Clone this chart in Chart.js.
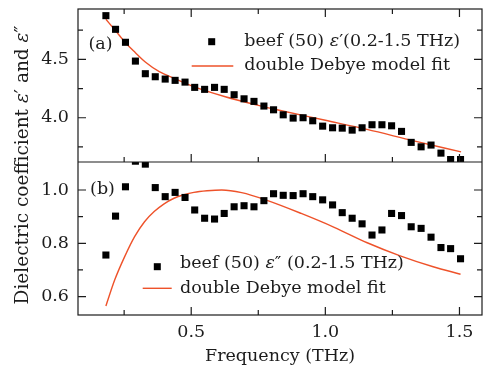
<!DOCTYPE html>
<html>
<head>
<meta charset="utf-8">
<title>Dielectric coefficient of beef</title>
<script src="https://cdn.jsdelivr.net/npm/chart.js@4/dist/chart.umd.min.js"></script>
<style>
    html, body { margin: 0; padding: 0; background: #fff; }
    #wrap { width: 487px; height: 373px; }
</style>
</head>
<body>
<div id="wrap"><canvas id="dielChart" width="487" height="373"></canvas></div>
<script>
// measured frequencies (THz)
var freq = [0.182, 0.218, 0.255, 0.292, 0.329, 0.366, 0.403, 0.440, 0.477, 0.513,
            0.550, 0.587, 0.623, 0.660, 0.697, 0.734, 0.771, 0.807, 0.843, 0.880,
            0.917, 0.953, 0.990, 1.027, 1.063, 1.100, 1.137, 1.174, 1.211, 1.247,
            1.284, 1.320, 1.357, 1.394, 1.431, 1.467, 1.504];

// (a) real part
var epsReal = [4.874, 4.757, 4.646, 4.485, 4.377, 4.351, 4.331, 4.320, 4.305, 4.260,
               4.243, 4.260, 4.243, 4.197, 4.162, 4.140, 4.100, 4.068, 4.025, 3.997,
               4.000, 3.974, 3.928, 3.914, 3.911, 3.894, 3.914, 3.940, 3.940, 3.931,
               3.883, 3.789, 3.751, 3.766, 3.697, 3.642, 3.642];

// (b) imaginary part
var epsImag = [0.756, 0.902, 1.012, 1.108, 1.097, 1.009, 0.975, 0.991, 0.972, 0.925,
               0.894, 0.891, 0.912, 0.937, 0.941, 0.937, 0.960, 0.986, 0.980, 0.979,
               0.986, 0.975, 0.963, 0.944, 0.915, 0.894, 0.873, 0.831, 0.850, 0.912,
               0.904, 0.862, 0.856, 0.823, 0.784, 0.780, 0.742];

// double Debye model fits
var fitRealX = [0.182, 0.218, 0.255, 0.292, 0.330, 0.381, 0.440, 0.504, 0.627, 0.750, 0.824, 1.000, 1.155, 1.330, 1.506];
var fitRealY = [4.843, 4.745, 4.642, 4.557, 4.475, 4.394, 4.334, 4.271, 4.180, 4.106, 4.066, 3.978, 3.900, 3.802, 3.708];
var fitImagX = [0.182, 0.215, 0.252, 0.289, 0.326, 0.362, 0.399, 0.436, 0.473, 0.510, 0.559, 0.614,
                0.688, 0.780, 0.910, 1.033, 1.156, 1.279, 1.402, 1.504];
var fitImagY = [0.565, 0.663, 0.750, 0.825, 0.881, 0.919, 0.948, 0.969, 0.982, 0.991, 0.997, 1.000,
                0.990, 0.962, 0.912, 0.860, 0.802, 0.753, 0.712, 0.684];

// ticks
var xMajor = [0.5, 1.0, 1.5];
var xMinor = [0.25, 0.75, 1.25];
var realMajor = [4.0, 4.5];
var realMinor = [3.75, 4.25, 4.75];
var imagMajor = [0.6, 0.8, 1.0];
var imagMinor = [0.7, 0.9];

var ink = '#1c1c1c';
var fitColor = 'rgb(238, 82, 42)';
var serif = '"DejaVu Serif", "Liberation Serif", serif';
var fontSize = 17.5;
var titleSize = 18.5;

function pts(xs, ys) {
    return xs.map(function (x, i) { return {x: x, y: ys[i]}; });
}

function setTicks(major, minor) {
    return function (scale) {
        scale.ticks = major.concat(minor).sort(function (a, b) { return a - b; })
            .map(function (v) { return {value: v}; });
    };
}

function labelOf(major) {
    return function (value) {
        return major.indexOf(value) >= 0 ? value.toFixed(1) : '';
    };
}

function richText(ctx, parts, x, y, size, align) {
    var widths = parts.map(function (p) {
        ctx.font = (p[1] ? 'italic ' : '') + size + 'px ' + serif;
        return ctx.measureText(p[0]).width;
    });
    var total = widths.reduce(function (s, w) { return s + w; }, 0);
    var cx = align === 'center' ? x - total / 2 : x;
    ctx.textAlign = 'left';
    ctx.textBaseline = 'middle';
    parts.forEach(function (p, i) {
        ctx.font = (p[1] ? 'italic ' : '') + size + 'px ' + serif;
        ctx.fillText(p[0], cx, y);
        cx += widths[i];
    });
}

var framePlugin = {
    id: 'frame',
    beforeDatasetDraw: function (chart, args) {
        var a = chart.chartArea;
        var ys = args.meta.yScale;
        chart.ctx.save();
        chart.ctx.beginPath();
        chart.ctx.rect(a.left, ys.top, a.right - a.left, ys.bottom - ys.top);
        chart.ctx.clip();
    },
    afterDatasetDraw: function (chart) {
        chart.ctx.restore();
    },
    afterDraw: function (chart) {
        var ctx = chart.ctx;
        var a = chart.chartArea;
        var sx = chart.scales.x, yA = chart.scales.yA, yB = chart.scales.yB;
        var bigTick = 8, smallTick = 5;

        ctx.save();
        ctx.strokeStyle = ink;
        ctx.lineWidth = 1.2;
        ctx.strokeRect(a.left, a.top, a.right - a.left, a.bottom - a.top);
        ctx.beginPath();
        ctx.moveTo(a.left, yA.bottom);
        ctx.lineTo(a.right, yA.bottom);
        ctx.stroke();

        ctx.beginPath();
        // x ticks: bottom, panel boundary, top (all inward)
        xMajor.concat(xMinor).forEach(function (v) {
            var len = xMajor.indexOf(v) >= 0 ? bigTick : smallTick;
            var px = sx.getPixelForValue(v);
            ctx.moveTo(px, a.bottom); ctx.lineTo(px, a.bottom - len);
            ctx.moveTo(px, yA.bottom); ctx.lineTo(px, yA.bottom - len);
            ctx.moveTo(px, a.top); ctx.lineTo(px, a.top + len);
        });
        function yTicks(scale, major, minor) {
            major.concat(minor).forEach(function (v) {
                var len = major.indexOf(v) >= 0 ? bigTick : smallTick;
                var py = scale.getPixelForValue(v);
                ctx.moveTo(a.left, py); ctx.lineTo(a.left + len, py);
                ctx.moveTo(a.right, py); ctx.lineTo(a.right - len, py);
            });
        }
        yTicks(yA, realMajor, realMinor);
        yTicks(yB, imagMajor, imagMinor);
        ctx.stroke();

        ctx.fillStyle = ink;
        // panel labels
        richText(ctx, [['(a)']], 100.5, 44, fontSize, 'center');
        richText(ctx, [['(b)']], 102.5, 189, fontSize, 'center');

        // legends
        var ds = chart.data.datasets;
        function legend(sqX, sqY, lineX0, lineX1, lineY, textX, textY1, textY2, dataSet, fitSet, parts) {
            ctx.fillStyle = dataSet.backgroundColor;
            ctx.fillRect(sqX - 3.5, sqY - 3.5, 7, 7);
            ctx.strokeStyle = fitSet.borderColor;
            ctx.lineWidth = fitSet.borderWidth;
            ctx.beginPath();
            ctx.moveTo(lineX0, lineY);
            ctx.lineTo(lineX1, lineY);
            ctx.stroke();
            ctx.fillStyle = ink;
            richText(ctx, parts, textX, textY1, fontSize, 'left');
            richText(ctx, [['double Debye model fit']], textX, textY2, fontSize, 'left');
        }
        legend(211.7, 41.7, 191.7, 233.3, 66, 244.3, 41, 65.5, ds[0], ds[1],
               [['beef (50) '], ['ε', true], ['′(0.2-1.5 THz)']]);
        legend(157.3, 266.7, 142.7, 171.7, 288.3, 180, 263.5, 288.3, ds[2], ds[3],
               [['beef (50) '], ['ε', true], ['″ (0.2-1.5 THz)']]);

        // shared y title
        ctx.save();
        ctx.translate(23, 165);
        ctx.rotate(-Math.PI / 2);
        ctx.fillStyle = ink;
        richText(ctx, [['Dielectric coefficient '], ['ε', true], ['′ and '], ['ε', true], ['″']], 0, 0, titleSize, 'center');
        ctx.restore();
        ctx.restore();
    }
};

function yAxis(min, max, major, minor) {
    return {
        type: 'linear',
        position: 'left',
        stack: 'panels',
        stackWeight: 1,
        min: min,
        max: max,
        afterBuildTicks: setTicks(major, minor),
        afterFit: function (scale) {
            scale.width = 78;
            scale.paddingTop = 0;
            scale.paddingBottom = 0;
        },
        grid: { display: false, drawTicks: false },
        border: { display: false },
        ticks: {
            autoSkip: false,
            padding: 9,
            color: ink,
            font: { family: serif, size: fontSize },
            callback: labelOf(major)
        }
    };
}

var ctx = document.getElementById('dielChart').getContext('2d');
var chart = new Chart(ctx, {
    type: 'scatter',
    data: {
        datasets: [
            {
                label: "beef (50) ε′",
                data: pts(freq, epsReal),
                yAxisID: 'yA',
                pointStyle: 'rect',
                pointRadius: 5,
                backgroundColor: '#000',
                borderWidth: 0
            },
            {
                label: 'double Debye model fit (a)',
                data: pts(fitRealX, fitRealY),
                yAxisID: 'yA',
                showLine: true,
                pointRadius: 0,
                borderColor: fitColor,
                borderWidth: 1.4,
                cubicInterpolationMode: 'monotone'
            },
            {
                label: "beef (50) ε″",
                data: pts(freq, epsImag),
                yAxisID: 'yB',
                pointStyle: 'rect',
                pointRadius: 5,
                backgroundColor: '#000',
                borderWidth: 0
            },
            {
                label: 'double Debye model fit (b)',
                data: pts(fitImagX, fitImagY),
                yAxisID: 'yB',
                showLine: true,
                pointRadius: 0,
                borderColor: fitColor,
                borderWidth: 1.4,
                cubicInterpolationMode: 'monotone'
            }
        ]
    },
    options: {
        responsive: false,
        animation: false,
        events: [],
        layout: { padding: { top: 9, right: 1, left: 0, bottom: 0 } },
        plugins: {
            legend: { display: false },
            tooltip: { enabled: false }
        },
        scales: {
            x: {
                type: 'linear',
                position: 'bottom',
                min: 0.078,
                max: 1.584,
                afterBuildTicks: setTicks(xMajor, xMinor),
                afterFit: function (scale) {
                    scale.height = 58;
                    scale.paddingLeft = 0;
                    scale.paddingRight = 0;
                },
                grid: { display: false, drawTicks: false },
                border: { display: false },
                ticks: {
                    autoSkip: false,
                    maxRotation: 0,
                    padding: 7,
                    color: ink,
                    font: { family: serif, size: fontSize },
                    callback: labelOf(xMajor)
                },
                title: {
                    display: true,
                    text: 'Frequency (THz)',
                    color: ink,
                    font: { family: serif, size: fontSize },
                    padding: { top: 0, bottom: 6 }
                }
            },
            yB: yAxis(0.531, 1.105, imagMajor, imagMinor),
            yA: yAxis(3.621, 4.931, realMajor, realMinor)
        }
    },
    plugins: [framePlugin]
});
</script>
</body>
</html>
